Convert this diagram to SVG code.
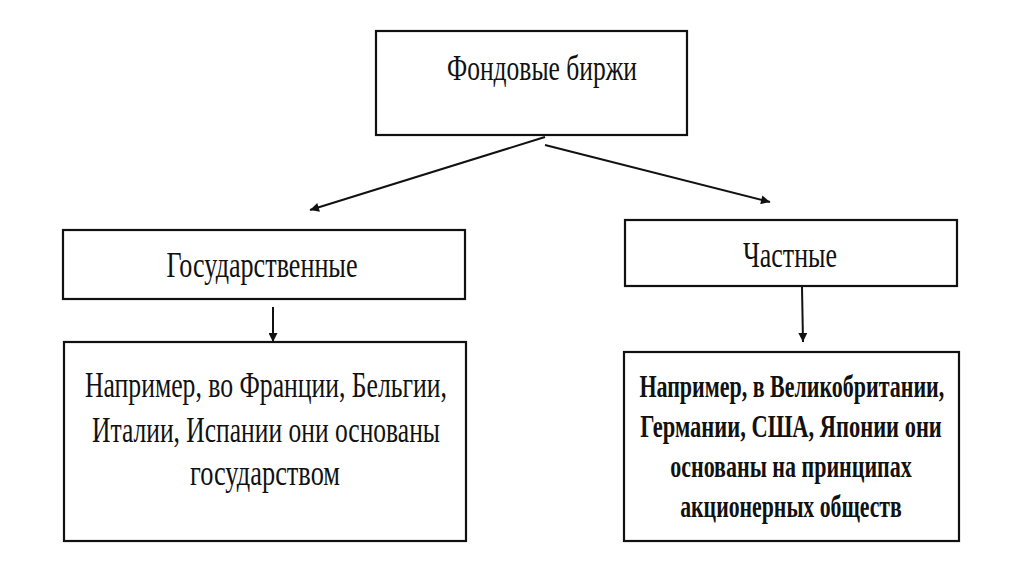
<svg xmlns="http://www.w3.org/2000/svg" width="1024" height="574" viewBox="0 0 1024 574">
<style>
.box{fill:#fff;stroke:#111;stroke-width:2.2}
.t{font-family:"Liberation Serif","Times New Roman",serif;fill:#111;text-anchor:middle}
.n{font-size:36px}
.b{font-size:31px;font-weight:bold}
.c{stroke:#111;stroke-width:2;fill:none}
</style>
<defs>
<marker id="ah" viewBox="0 0 10 10" refX="10" refY="5" markerWidth="11" markerHeight="9" markerUnits="userSpaceOnUse" orient="auto">
<path d="M0,0 L10,5 L0,10 Z" fill="#111"/>
</marker>
</defs>
<rect width="1024" height="574" fill="#fff"/>
<g id="connectors">
<line class="c" x1="545" y1="137" x2="310" y2="210" marker-end="url(#ah)"/>
<line class="c" x1="545" y1="145" x2="770" y2="202" marker-end="url(#ah)"/>
<line class="c" x1="273" y1="307" x2="273" y2="342" marker-end="url(#ah)"/>
<line class="c" x1="802" y1="287" x2="803" y2="342" marker-end="url(#ah)"/>
</g>
<g id="root">
<rect class="box" x="376" y="31" width="311" height="104"/>
<text class="t n" x="542" y="80" textLength="190" lengthAdjust="spacingAndGlyphs">Фондовые биржи</text>
</g>
<g id="state">
<rect class="box" x="63" y="230" width="402" height="69"/>
<text class="t n" x="262" y="277" textLength="191" lengthAdjust="spacingAndGlyphs">Государственные</text>
</g>
<g id="private">
<rect class="box" x="625" y="220" width="332" height="66"/>
<text class="t n" x="790" y="267" textLength="94" lengthAdjust="spacingAndGlyphs">Частные</text>
</g>
<g id="state-detail">
<rect class="box" x="64" y="342" width="402" height="199"/>
<text class="t n" x="266" y="397" textLength="362" lengthAdjust="spacingAndGlyphs">Например, во Франции, Бельгии,</text>
<text class="t n" x="266" y="442" textLength="348" lengthAdjust="spacingAndGlyphs">Италии, Испании они основаны</text>
<text class="t n" x="265" y="485" textLength="150" lengthAdjust="spacingAndGlyphs">государством</text>
</g>
<g id="private-detail">
<rect class="box" x="624" y="352" width="335" height="189"/>
<g transform="translate(791,0) scale(0.8,1)">
<text class="t b" x="1" y="397" textLength="381" lengthAdjust="spacingAndGlyphs">Например, в Великобритании,</text>
<text class="t b" x="0" y="437" textLength="377" lengthAdjust="spacingAndGlyphs">Германии, США, Японии  они</text>
<text class="t b" x="0" y="477" textLength="302" lengthAdjust="spacingAndGlyphs">основаны на принципах</text>
<text class="t b" x="0" y="517" textLength="277" lengthAdjust="spacingAndGlyphs">акционерных обществ</text>
</g>
</g>
</svg>
